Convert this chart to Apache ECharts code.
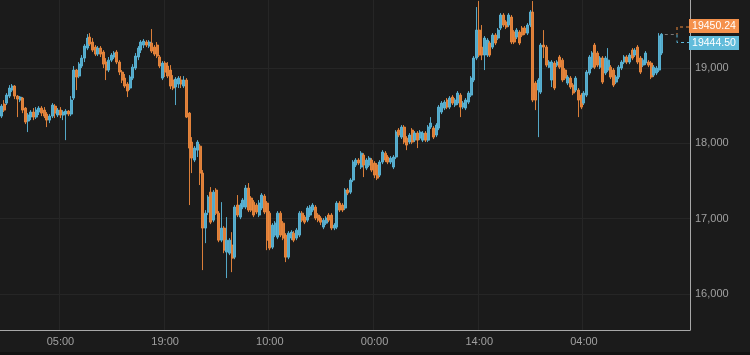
<!DOCTYPE html>
<html>
<head>
<meta charset="utf-8">
<style>
  html, body { margin: 0; padding: 0; background: #1b1b1b; }
  #chart { width: 750px; height: 355px; }
</style>
<script src="https://cdn.jsdelivr.net/npm/echarts@6/dist/echarts.min.js"></script>
</head>
<body>
<div id="chart"></div>
<script>
// time labels and the slot they sit on
var tickLabels = ['05:00', '19:00', '10:00', '00:00', '14:00', '04:00'];
var tickIndex = [22, 61, 100, 139, 178, 217];
var slotCount = 257;
var priceTicks = [16000, 17000, 18000, 19000];
var lastPrices = [19450.24, 19444.50];

// [open, close, low, high]
var candles = [
  [18362,18495,18336,18522],[18522,18442,18416,18575],[18535,18641,18509,18668],[18628,18735,18602,18774],
  [18708,18761,18681,18788],[18761,18628,18588,18774],[18628,18588,18349,18641],[18575,18615,18548,18628],
  [18602,18442,18402,18615],[18469,18283,18256,18482],[18296,18376,18150,18402],[18349,18416,18309,18442],
  [18416,18349,18309,18469],[18349,18442,18323,18482],[18416,18469,18376,18495],[18469,18402,18362,18495],
  [18442,18362,18336,18482],[18389,18309,18216,18416],[18309,18362,18269,18389],[18362,18509,18336,18535],
  [18495,18402,18336,18522],[18376,18442,18349,18469],[18442,18376,18336,18482],[18376,18416,18309,18442],
  [18389,18429,18043,18455],[18429,18389,18362,18442],[18389,18575,18362,18628],[18602,18974,18575,19027],
  [18974,18881,18708,18987],[18894,19053,18867,19080],[19027,19133,19000,19173],[19133,19293,19080,19319],
  [19266,19399,19239,19452],[19412,19319,19293,19465],[19346,19239,19213,19399],[19279,19186,19160,19306],
  [19186,19266,19160,19293],[19266,19186,19147,19293],[19213,19053,19000,19239],[19080,18974,18841,19133],
  [18974,19106,18947,19147],[19106,19173,19080,19200],[19147,19200,19120,19226],[19213,19080,19053,19239],
  [19080,18947,18907,19106],[18947,18841,18801,18974],[18867,18761,18735,18921],[18788,18695,18615,18814],
  [18735,18881,18708,18907],[18867,19013,18841,19053],[19000,19160,18974,19200],[19147,19266,19106,19293],
  [19239,19346,19200,19372],[19306,19359,19266,19386],[19346,19306,19279,19372],[19293,19346,19266,19372],
  [19333,19226,19200,19519],[19279,19186,19160,19306],[19306,19160,19133,19346],[19147,19027,19000,19173],
  [18867,19067,18841,19093],[19067,18947,18881,19093],[19027,18894,18867,19080],[18974,18761,18721,19040],
  [18841,18735,18708,18907],[18748,18854,18509,18881],[18788,18867,18735,18894],[18841,18788,18735,18894],
  [18761,18841,18735,18894],[18841,18349,18336,18867],
  [18402,17937,17180,18416],[18017,17804,17605,18083],[17778,17937,17751,17964],[17910,18017,17818,18043],
  [17963,17605,17446,17990],[17605,16874,16316,17645],[16874,17073,16674,17113],[17086,17286,17047,17313],
  [17352,16953,16927,17419],[16980,17352,16953,17379],[17379,17073,17047,17405],[17073,16714,16687,17100],
  [16714,16874,16687,17219],[16874,16581,16541,16900],[16555,16714,16210,17020],[16541,16714,16515,16741],
  [16648,16475,16289,16820],[16488,17153,16461,17180],[17180,17047,17020,17313],[17020,17180,16993,17206],
  [17153,17246,17126,17273],[17153,17406,17126,17446],[17406,17113,17087,17472],[17273,17113,17087,17299],
  [17219,17047,17020,17246],[17180,17087,17060,17206],[17047,17206,17020,17246],
  [17140,17313,17113,17339],[17299,17087,17060,17326],[17206,16714,16581,17233],[17073,16608,16581,17100],
  [16621,16914,16595,16940],[16781,16940,16754,16967],[16754,17073,16727,17100],[17073,16781,16754,17100],
  [16940,16741,16714,16967],[16781,16488,16422,16807],[16488,16807,16461,16834],[16741,16821,16714,16847],
  [16807,16714,16687,16834],[16741,16847,16714,16874],[16781,17073,16754,17100],[17073,16980,16953,17100],
  [17020,16953,16927,17047],[16980,17140,16953,17166],[17047,17153,17020,17180],[17113,17180,17087,17206],
  [17153,17007,16980,17180],[17047,16980,16953,17073],[17007,16953,16914,17033],[16887,16980,16860,17007],
  [16940,17007,16914,17033],[17047,16980,16953,17073],[17047,16874,16847,17073],[16874,16914,16847,16940],
  [16887,17206,16860,17233],[17206,17113,17087,17233],[17180,17113,17087,17206],[17140,17379,17113,17405],
  [17379,17339,17312,17405],[17352,17512,17326,17538],[17512,17751,17485,17778],[17711,17778,17685,17804],
  [17778,17738,17711,17804],[17685,17870,17658,17897],
  [17844,17711,17552,17870],[17671,17778,17645,17804],[17711,17804,17685,17831],[17778,17645,17618,17804],
  [17738,17578,17538,17764],[17711,17538,17512,17738],[17578,17751,17552,17778],[17751,17884,17724,17910],
  [17870,17778,17751,17897],[17818,17751,17724,17844],[17751,17804,17724,17831],[17685,17818,17658,17844],
  [17818,18150,17791,18176],[18176,18110,18083,18203],[18083,18216,18057,18243],[18216,18017,17990,18243],
  [18070,17977,17910,18096],[18017,18110,17990,18137],[18176,18017,17990,18203],[18043,18137,18017,18163],
  [18137,18043,17937,18163],[18070,18150,18043,18176],[18043,18137,18017,18163],[18137,18043,18017,18163],
  [18043,18216,18017,18243],[18216,18269,18190,18349],[18203,18083,18057,18229],[18110,18243,18083,18269],
  [18203,18482,18176,18509],[18416,18535,18389,18562],[18469,18548,18442,18575],[18575,18482,18455,18602],
  [18482,18602,18455,18628],[18615,18535,18509,18641],[18509,18575,18482,18602],[18535,18668,18509,18695],
  [18641,18482,18349,18668],[18482,18535,18455,18562],[18469,18575,18442,18602],[18548,18668,18522,18695],
  [18641,18867,18615,18894],[18841,19133,18814,19160],
  [19133,19505,19106,19811],[19505,19173,19147,19891],[19279,19173,19106,19572],[19173,19399,18974,19426],
  [19173,19372,19147,19399],[19333,19173,19147,19359],[19279,19439,19253,19465],[19439,19333,19306,19465],
  [19399,19505,19372,19532],[19532,19705,19505,19731],[19705,19572,19545,19731],[19612,19545,19519,19638],
  [19572,19705,19545,19731],[19678,19346,19319,19705],[19479,19346,19319,19505],[19412,19505,19386,19532],
  [19479,19333,19306,19505],[19532,19439,19412,19559],[19532,19465,19439,19559],[19465,19572,19439,19598],
  [19572,19745,19545,19771],[19745,18575,18548,19891],[18801,18575,18442,18827],[18708,18841,18083,18867],
  [18681,19306,18655,19333],[19306,19279,19133,19505],[19279,19040,19013,19306],[19013,19080,19000,19106],
  [18841,19080,18748,19106],[19067,18735,18708,19093],[19040,19080,19013,19106],[19147,19013,18987,19173],
  [19106,18841,18814,19133],[18974,18867,18841,19000],[18801,18881,18774,18907],[18867,18748,18721,18894],
  [18774,18668,18641,18801],[18708,18867,18681,18894],[18708,18575,18349,18735],[18641,18482,18455,18668],
  [18535,18668,18509,18695],[18641,18947,18615,18974],[18934,19147,18907,19173],[19013,19200,18987,19226],
  [19306,19013,18987,19333],[19200,19040,19013,19226],[19013,19133,18987,19160],[19133,18814,18788,19160],
  [18934,19133,18907,19160],[18974,19106,18947,19266],[19013,18881,18854,19040],[18974,18774,18748,19000],
  [18814,18881,18788,18907],[18881,19013,18854,19040],[19000,19080,18974,19106],[19080,19147,19053,19173],
  [19147,19080,19053,19173],[19080,19173,19053,19200],[19239,19133,19106,19266],[19173,19239,19147,19266],
  [19279,19080,19053,19306],[19133,18947,18921,19160],[19040,19106,19013,19133],[19067,19200,19040,19226],
  [19080,19040,19013,19106],[19067,18881,18854,19093],[18907,19013,18881,19040],[18934,19000,18907,19027],
  [18974,19426,18947,19465],[19200,19450,19173,19465]
];

var upColor = '#5bb8da';
var downColor = '#ef8a3d';
var labelFont = 'Liberation Sans, Arial, sans-serif';

var categories = [];
for (var i = 0; i < slotCount; i++) categories.push(String(i));
var labelAt = {};
tickIndex.forEach(function (idx, k) { labelAt[idx] = tickLabels[k]; });
function isLabelSlot(index) { return labelAt[index] !== undefined; }

var chart = echarts.init(document.getElementById('chart'));
var option = {
  backgroundColor: '#1b1b1b',
  animation: false,
  grid: { left: 0, right: 60, top: 0, bottom: 25, containLabel: false },
  xAxis: {
    type: 'category',
    data: categories,
    boundaryGap: true,
    axisLine: { show: true, lineStyle: { color: '#a8a8a8', width: 1 } },
    axisTick: { show: false },
    axisLabel: {
      interval: isLabelSlot,
      formatter: function (v, idx) { return labelAt[idx] || ''; },
      color: '#a0a0a0',
      fontSize: 11,
      fontFamily: labelFont,
      margin: 6
    },
    splitLine: { show: true, interval: isLabelSlot, lineStyle: { color: '#262626', width: 1 } }
  },
  yAxis: {
    type: 'value',
    position: 'right',
    min: 15520,
    max: 19905,
    scale: true,
    axisLine: { show: true, lineStyle: { color: '#a8a8a8', width: 1 } },
    axisTick: { show: false, customValues: priceTicks },
    axisLabel: {
      customValues: priceTicks,
      color: '#a0a0a0',
      fontSize: 11,
      fontFamily: labelFont,
      margin: 5,
      formatter: function (v) { return Number(v).toLocaleString('en-US'); }
    },
    splitLine: { show: true, lineStyle: { color: '#262626', width: 1 } }
  },
  series: [{
    type: 'candlestick',
    data: candles,
    barWidth: 2.5,
    itemStyle: {
      color: upColor,
      color0: downColor,
      borderColor: upColor,
      borderColor0: downColor,
      borderWidth: 1,
      opacity: 0.9
    }
  }]
};
chart.setOption(option);

// last price tags on the right axis
var yA = chart.convertToPixel({ yAxisIndex: 0 }, lastPrices[0]);
var yB = chart.convertToPixel({ yAxisIndex: 0 }, lastPrices[1]);
var xLast = chart.convertToPixel({ xAxisIndex: 0 }, candles.length - 1);
var yMid = Math.round((yA + yB) / 2) + 0.5;
var axisX = 690;
var tagW = 50, tagH = 14;
var dash = [3, 3];

chart.setOption({
  graphic: [
    { type: 'rect', left: 0, bottom: 0, shape: { width: 750, height: 3 }, style: { fill: '#121212' }, silent: true },
    { type: 'polyline', shape: { points: [[xLast + 3, yMid], [axisX - 13, yMid]] },
      style: { stroke: '#777', lineWidth: 1, lineDash: dash, fill: null }, z: 10 },
    { type: 'polyline', shape: { points: [[axisX - 1, yMid - 7.5], [axisX - 13, yMid - 7.5], [axisX - 13, yMid]] },
      style: { stroke: downColor, lineWidth: 1, lineDash: dash, fill: null }, z: 10 },
    { type: 'polyline', shape: { points: [[axisX - 13, yMid], [axisX - 13, yMid + 8], [axisX - 1, yMid + 8]] },
      style: { stroke: upColor, lineWidth: 1, lineDash: dash, fill: null }, z: 10 },
    { type: 'rect', x: axisX - 1, y: yMid - 15.5, shape: { width: tagW, height: tagH }, style: { fill: '#f5914c' }, z: 20 },
    { type: 'text', x: axisX - 1 + tagW / 2, y: yMid - 15.5 + tagH / 2,
      style: { text: lastPrices[0].toFixed(2), fill: '#ffffff', fontSize: 10.5, fontFamily: labelFont,
               align: 'center', verticalAlign: 'middle' }, z: 21 },
    { type: 'rect', x: axisX - 1, y: yMid + 1.5, shape: { width: tagW, height: tagH }, style: { fill: '#62bcdb' }, z: 20 },
    { type: 'text', x: axisX - 1 + tagW / 2, y: yMid + 1.5 + tagH / 2,
      style: { text: lastPrices[1].toFixed(2), fill: '#ffffff', fontSize: 10.5, fontFamily: labelFont,
               align: 'center', verticalAlign: 'middle' }, z: 21 }
  ]
});
</script>
</body>
</html>
